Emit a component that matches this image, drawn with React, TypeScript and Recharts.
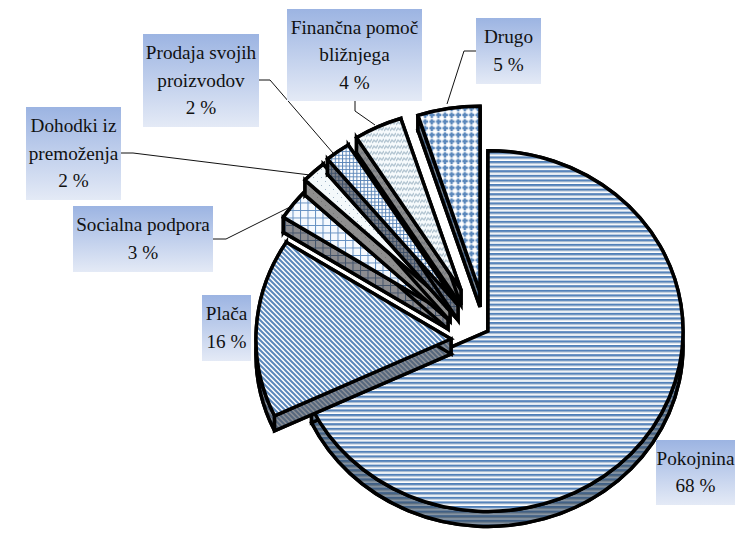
import React from 'react'
import { PieChart, Pie, Cell } from "recharts";

const categories = ["Pokojnina", "Plača", "Socialna podpora", "Dohodki iz premoženja", "Prodaja svojih proizvodov", "Finančna pomoč bližnjega", "Drugo"];
const shares = [68, 16, 3, 2, 2, 4, 5];
const labelLines = [["Pokojnina"], ["Plača"], ["Socialna podpora"], ["Dohodki iz", "premoženja"], ["Prodaja svojih", "proizvodov"], ["Finančna pomoč", "bližnjega"], ["Drugo"]];

const data = categories.map((name, i) => ({ name, value: shares[i] }));

// how far each slice is pulled away from the pie centre
const explodeX = [0, -37, -40, -38, -30, -27, -8];
const explodeY = [0, 8, -17, -25, -26, -41, -39];
const radiusScale = [1, 1, 1, 1.02, 1.05, 1, 1.03];
// label boxes: x, y, width, height
const boxes = [
    [656, 440, 79, 65],
    [202, 295, 49, 66],
    [73, 206, 140, 66],
    [26, 107, 95, 93],
    [143, 34, 116, 93],
    [287, 9, 135, 92],
    [476, 18, 65, 66],
];
const leaders = [
    "",
    "",
    "213,239 226,239 290,207",
    "121,153 133,153 310,175",
    "259,80 270,80 333,153",
    "355,101 355,111 375,125",
    "476,51 464,51 447,104",
];

const CX = 488;
const CY = 331;
const RX = 195;
const YSCALE = 0.925;
const DEPTH = 15;
const RAD = Math.PI / 180;

const SliceShape = (props: any) => {
    const { cx, cy, outerRadius, startAngle, endAngle, index } = props;
    const ax = cx + explodeX[index];
    const ay = cy + explodeY[index];
    const rx = outerRadius * radiusScale[index];
    const ry = rx * YSCALE;
    const x1 = ax + rx * Math.cos(startAngle * RAD);
    const y1 = ay - ry * Math.sin(startAngle * RAD);
    const x2 = ax + rx * Math.cos(endAngle * RAD);
    const y2 = ay - ry * Math.sin(endAngle * RAD);
    const large = Math.abs(startAngle - endAngle) > 180 ? 1 : 0;
    const face = (d: number) => `M${ax},${ay + d} L${x1},${y1 + d} A${rx},${ry} 0 ${large} 1 ${x2},${y2 + d} Z`;
    const band = `M${x1},${y1} A${rx},${ry} 0 ${large} 1 ${x2},${y2} L${x2},${y2 + DEPTH} A${rx},${ry} 0 ${large} 0 ${x1},${y1 + DEPTH} Z`;
    const edge = (x: number, y: number) => `M${ax},${ay} L${x},${y} L${x},${y + DEPTH} L${ax},${ay + DEPTH} Z`;
    const wall = `url(#wall${index})`;
    const common = { stroke: "#000", strokeWidth: 3.5, strokeLinejoin: "miter" as const };
    return (
        <g>
            <path d={face(DEPTH)} fill={wall} {...common} />
            <path d={band} fill={wall} {...common} />
            <path d={edge(x1, y1)} fill={wall} {...common} />
            <path d={edge(x2, y2)} fill={wall} {...common} />
            <path d={face(0)} fill={`url(#face${index})`} {...common} />
        </g>
    );
};

const renderLabel = (props: any) => {
    const { index } = props;
    const [x, y, w, h] = boxes[index];
    const lines = [...labelLines[index], `${shares[index]} %`];
    const step = 27.5;
    const first = y + h / 2 - ((lines.length - 1) * step) / 2 + 6;
    return (
        <g>
            {leaders[index] && <polyline points={leaders[index]} fill="none" stroke="#111" strokeWidth={1} />}
            <rect x={x} y={y} width={w} height={h} fill="url(#labelBg)" />
            <text textAnchor="middle" fontFamily="'Liberation Serif'" fontSize={19.2} fill="#111">
                {lines.map((line, i) => (
                    <tspan key={i} x={x + w / 2} y={first + i * step}>{line}</tspan>
                ))}
            </text>
        </g>
    );
};

const Stripes = ({ id, bg, fg, soft }: any) => (
    <pattern id={id} width={4.6} height={4.6} patternUnits="userSpaceOnUse">
        <rect width={4.6} height={4.6} fill={bg} />
        <rect y={0} width={4.6} height={1.8} fill={fg} />
        <rect y={1.8} width={4.6} height={1.2} fill={soft} />
    </pattern>
);
const Diagonal = ({ id, bg, fg }: any) => (
    <pattern id={id} width={5} height={5} patternUnits="userSpaceOnUse">
        <rect width={5} height={5} fill={bg} />
        <path d="M-1,-1 L6,6 M-1,4 L1,6 M4,-1 L6,1" stroke={fg} strokeWidth={2} />
    </pattern>
);
const Grid = ({ id, bg, fg, size }: any) => (
    <pattern id={id} width={size} height={size} patternUnits="userSpaceOnUse">
        <rect width={size} height={size} fill={bg} />
        <path d={`M0,0.5 H${size} M0.5,0 V${size}`} stroke={fg} strokeWidth={1} />
    </pattern>
);
const Dots = ({ id, bg, fg }: any) => (
    <pattern id={id} width={8} height={8} patternUnits="userSpaceOnUse">
        <rect width={8} height={8} fill={bg} />
        <rect x={1} y={1} width={1} height={1} fill={fg} />
        <rect x={5} y={5} width={1} height={1} fill={fg} />
    </pattern>
);
const Zigzag = ({ id, bg, fg }: any) => (
    <pattern id={id} width={6} height={6} patternUnits="userSpaceOnUse">
        <rect width={6} height={6} fill={bg} />
        <path d="M0,5 L2,2 L4,4 L6,1" fill="none" stroke={fg} strokeWidth={1.4} />
    </pattern>
);
const Plaid = ({ id, bg, fg }: any) => (
    <pattern id={id} width={6.6} height={6.6} patternUnits="userSpaceOnUse">
        <rect width={6.6} height={6.6} fill={bg} />
        <rect x={1.6} y={0.4} width={2.4} height={5.4} fill={fg} />
        <rect x={0.4} y={1.6} width={5.4} height={2.4} fill={fg} />
    </pattern>
);

const App = () => {
    return (
        <div style={{ position: "absolute", left: 0, top: 0 }}>
            <PieChart width={737} height={538} margin={{ top: 0, right: 0, bottom: 0, left: 0 }}>
                <defs>
                    <linearGradient id="labelBg" x1="0" y1="0" x2="0" y2="1">
                        <stop offset="0%" stopColor="#9cb4e2" />
                        <stop offset="100%" stopColor="#e4eaf6" />
                    </linearGradient>
                    <Stripes id="face0" bg="#fff" fg="#4f7fb8" soft="#a9bdd2" />
                    <Diagonal id="face1" bg="#fff" fg="#5a87bb" />
                    <Grid id="face2" bg="#f5f9fe" fg="#6590c2" size={7.5} />
                    <Dots id="face3" bg="#f4f9fb" fg="#9fb2c4" />
                    <Grid id="face4" bg="#fff" fg="#5a85b8" size={3.6} />
                    <Zigzag id="face5" bg="#f6fafc" fg="#b4c6d2" />
                    <Plaid id="face6" bg="#fff" fg="#5a87bb" />
                    <Stripes id="wall0" bg="#8a97a5" fg="#3f5f85" soft="#5f7080" />
                    <Diagonal id="wall1" bg="#8c9096" fg="#56677d" />
                    <Grid id="wall2" bg="#8c8c90" fg="#43536a" size={7.5} />
                    <Dots id="wall3" bg="#8e8e8e" fg="#777" />
                    <Grid id="wall4" bg="#7c7f86" fg="#3d4f68" size={3.6} />
                    <Zigzag id="wall5" bg="#8e8e8e" fg="#787c82" />
                    <Plaid id="wall6" bg="#7d8791" fg="#3f5f85" />
                </defs>
                <Pie
                    data={data}
                    dataKey="value"
                    nameKey="name"
                    cx={CX}
                    cy={CY}
                    innerRadius={0}
                    outerRadius={RX}
                    startAngle={90}
                    endAngle={-270}
                    stroke="none"
                    label={renderLabel}
                    labelLine={false}
                    shape={SliceShape}
                    isAnimationActive={false}
                >
                    {data.map((d, i) => (
                        <Cell key={d.name} fill={`url(#face${i})`} />
                    ))}
                </Pie>
            </PieChart>
        </div>
    )
}

export default App
